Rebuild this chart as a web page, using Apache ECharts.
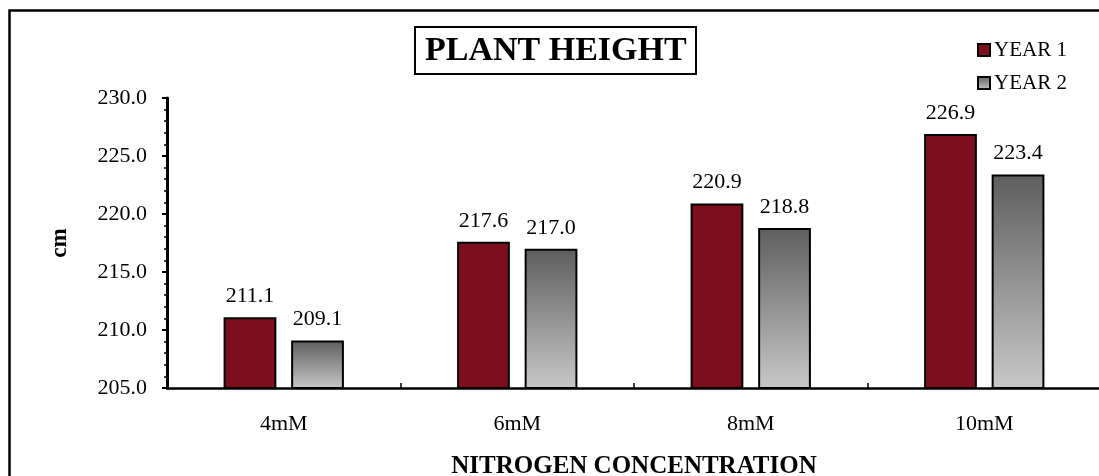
<!DOCTYPE html>
<html>
<head>
<meta charset="utf-8">
<script src="https://cdn.jsdelivr.net/npm/echarts@6/dist/echarts.min.js"></script>
<style>
html,body{margin:0;padding:0;background:#fff;}
#c{width:1099px;height:476px;}
</style>
</head>
<body>
<div id="c"></div>
<script>
const categories = ['4mM', '6mM', '8mM', '10mM'];
const year1 = [211.1, 217.6, 220.9, 226.9];
const year2 = [209.1, 217.0, 218.8, 223.4];
const seriesNames = ['YEAR 1', 'YEAR 2'];
const titleText = 'PLANT HEIGHT';
const xName = 'NITROGEN CONCENTRATION';
const yName = 'cm';

const FONT = '"Liberation Serif", "Times New Roman", serif';
const red = '#7d0e1c';
const grayGrad = new echarts.graphic.LinearGradient(0, 0, 0, 1, [
  {offset: 0, color: '#5e5e5e'},
  {offset: 1, color: '#c8c8c8'}
]);

const chart = echarts.init(document.getElementById('c'), null, {renderer: 'canvas'});
const labelCfg = {
  show: true, position: 'top', distance: 10,
  color: '#000', fontFamily: FONT, fontSize: 22,
  formatter: p => p.value.toFixed(1)
};
chart.setOption({
  animation: false,
  backgroundColor: '#fff',
  title: {
    text: titleText,
    left: 415, top: 27,
    padding: [6, 10, 5, 10],
    borderColor: '#000', borderWidth: 2,
    textStyle: {fontFamily: FONT, fontSize: 34, fontWeight: 'bold', color: '#000', lineHeight: 36}
  },
  legend: {
    orient: 'vertical',
    left: 972, top: 34,
    itemWidth: 12, itemHeight: 12, itemGap: 11,
    icon: 'rect',
    textStyle: {fontFamily: FONT, fontSize: 21, lineHeight: 22, color: '#000', padding: [0, 0, 0, -1]},
    data: seriesNames
  },
  graphic: [{
    type: 'rect', silent: true,
    shape: {x: 9.5, y: 10.5, width: 1200, height: 600},
    style: {fill: 'none', stroke: '#000', lineWidth: 2.5}
  }],
  grid: {left: 167, right: -2, top: 98, bottom: 88, containLabel: false, outerBoundsMode: 'none'},
  xAxis: {
    type: 'category',
    data: categories,
    name: xName,
    nameLocation: 'middle',
    nameGap: 66,
    nameTextStyle: {fontFamily: FONT, fontSize: 25, fontWeight: 'bold', color: '#000'},
    axisLine: {lineStyle: {color: '#000', width: 2.5}},
    axisTick: {show: true, inside: true, length: 5, lineStyle: {color: '#000', width: 1.5}},
    axisLabel: {fontFamily: FONT, fontSize: 22, color: '#000', margin: 25},
    splitLine: {show: false}
  },
  yAxis: {
    type: 'value',
    min: 205, max: 230, interval: 5,
    name: yName,
    nameLocation: 'middle',
    nameGap: 95,
    nameTextStyle: {fontFamily: FONT, fontSize: 23, fontWeight: 'bold', color: '#000'},
    axisLine: {show: true, lineStyle: {color: '#000', width: 3}},
    axisTick: {show: true, length: 5, lineStyle: {color: '#000', width: 2}},
    minorTick: {show: true, splitNumber: 5, length: 3, lineStyle: {color: '#000', width: 1.5}},
    axisLabel: {fontFamily: FONT, fontSize: 22, color: '#000', margin: 20, formatter: v => v.toFixed(1)},
    splitLine: {show: false}
  },
  series: [
    {
      name: seriesNames[0], type: 'bar', data: year1,
      barWidth: '22.6%', barGap: '28%',
      itemStyle: {color: red, borderColor: '#000', borderWidth: 2},
      label: labelCfg
    },
    {
      name: seriesNames[1], type: 'bar', data: year2,
      barWidth: '22.6%', barGap: '28%',
      itemStyle: {color: grayGrad, borderColor: '#000', borderWidth: 2},
      label: labelCfg
    }
  ]
});
</script>
</body>
</html>
